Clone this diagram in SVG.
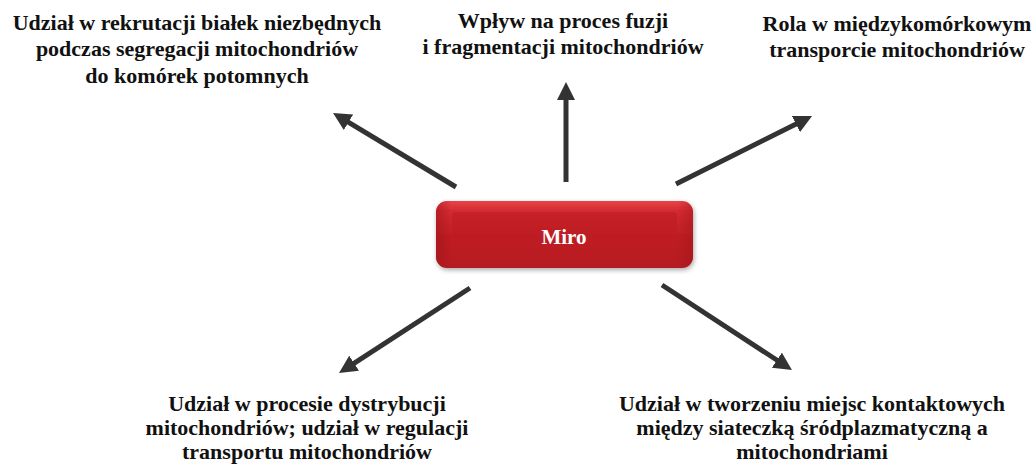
<svg xmlns="http://www.w3.org/2000/svg" width="1035" height="464" viewBox="0 0 1035 464">
<style>
.lbl{font-family:"Liberation Serif","Times New Roman",serif;font-weight:bold;font-size:22px;fill:#111;text-anchor:middle}
.conn{stroke:#333;stroke-width:5;fill:none;marker-end:url(#ah)}
.miro{font-family:"Liberation Serif","Times New Roman",serif;font-weight:bold;font-size:21px;fill:#fff;text-anchor:middle}
</style>
<defs>
<marker id="ah" markerUnits="userSpaceOnUse" viewBox="0 0 18 18" markerWidth="18" markerHeight="18" refX="8" refY="9" orient="auto">
<path d="M0,0 L18,9 L0,18 z" fill="#333"/>
</marker>
<linearGradient id="gv" x1="0" y1="0" x2="0" y2="1">
<stop offset="0" stop-color="#e8444a"/>
<stop offset="0.15" stop-color="#d42a30"/>
<stop offset="0.5" stop-color="#bf1f25"/>
<stop offset="1" stop-color="#b41a20"/>
</linearGradient>
<linearGradient id="gh" x1="0" y1="0" x2="1" y2="0">
<stop offset="0" stop-color="#9e1419" stop-opacity="0.55"/>
<stop offset="0.06" stop-color="#9e1419" stop-opacity="0"/>
<stop offset="0.94" stop-color="#9e1419" stop-opacity="0"/>
<stop offset="1" stop-color="#9e1419" stop-opacity="0.45"/>
</linearGradient>
<filter id="sh" x="-10%" y="-20%" width="120%" height="150%">
<feGaussianBlur in="SourceAlpha" stdDeviation="2.5"/>
<feOffset dx="1" dy="2" result="b"/>
<feComponentTransfer><feFuncA type="linear" slope="0.35"/></feComponentTransfer>
<feMerge><feMergeNode/><feMergeNode in="SourceGraphic"/></feMerge>
</filter>
</defs>
<g id="connectors">
<line class="conn" x1="456" y1="187" x2="341.6" y2="118.2"/>
<line class="conn" x1="566" y1="182" x2="566" y2="92"/>
<line class="conn" x1="676" y1="184" x2="803.1" y2="120.5"/>
<line class="conn" x1="470" y1="288" x2="347.4" y2="367.6"/>
<line class="conn" x1="662" y1="285" x2="783.6" y2="364.5"/>
</g>
<g id="miro">
<rect x="436" y="201" width="257" height="67" rx="11" fill="url(#gv)" filter="url(#sh)"/>
<rect x="436" y="201" width="257" height="67" rx="11" fill="url(#gh)"/>
<rect x="452" y="212" width="225" height="47" rx="4" fill="#bc1d23" opacity="0.6"/>
<text class="miro" x="564" y="244">Miro</text>
</g>
<g id="n-segregacja">
<text class="lbl" x="197" y="29.5">Udział w rekrutacji białek niezbędnych</text>
<text class="lbl" x="197" y="56">podczas segregacji mitochondriów</text>
<text class="lbl" x="197" y="82.5">do komórek potomnych</text>
</g>
<g id="n-fuzja">
<text class="lbl" x="563" y="28">Wpływ na proces fuzji</text>
<text class="lbl" x="563" y="53.5">i fragmentacji mitochondriów</text>
</g>
<g id="n-transport">
<text class="lbl" x="897" y="31">Rola w międzykomórkowym</text>
<text class="lbl" x="897" y="57">transporcie mitochondriów</text>
</g>
<g id="n-dystrybucja">
<text class="lbl" x="307" y="410.5">Udział w procesie dystrybucji</text>
<text class="lbl" x="307" y="435">mitochondriów; udział w regulacji</text>
<text class="lbl" x="307" y="459">transportu mitochondriów</text>
</g>
<g id="n-kontakty">
<text class="lbl" x="812" y="410.5">Udział w tworzeniu miejsc kontaktowych</text>
<text class="lbl" x="812" y="435">między siateczką śródplazmatyczną a</text>
<text class="lbl" x="812" y="459">mitochondriami</text>
</g>
</svg>
